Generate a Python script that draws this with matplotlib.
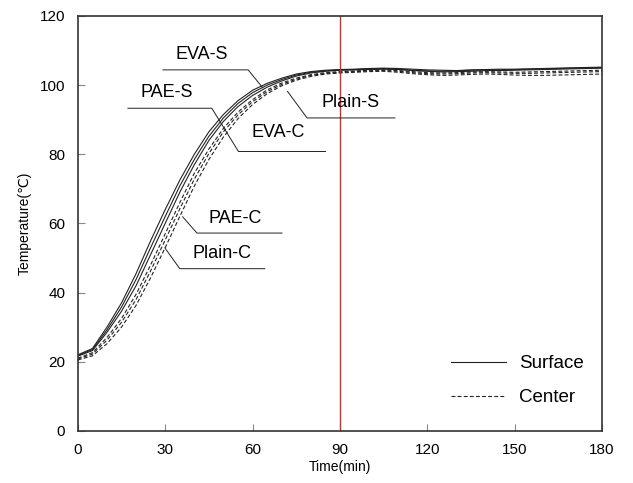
import matplotlib
matplotlib.use("Agg")
import matplotlib.pyplot as plt

plt.rcParams['font.family'] = ['Liberation Sans', 'DejaVu Sans']

# time (min)
t = [0, 5, 10, 15, 20, 25, 30, 35, 40, 45, 50, 55, 60, 65, 70, 75, 80, 85, 90,
     95, 100, 105, 110, 115, 120, 125, 130, 135, 140, 145, 150, 155, 160, 165, 170, 175, 180]

# surface temperatures
eva_s = [22.0, 23.8, 30.0, 37.0, 45.5, 55.0, 64.0, 72.5, 80.0, 86.5, 91.5, 95.5, 98.5, 100.5, 102.0, 103.2, 103.9, 104.3, 104.5,
         104.6, 104.8, 104.9, 104.8, 104.6, 104.4, 104.3, 104.2, 104.4, 104.5, 104.6, 104.6, 104.7, 104.8, 104.9, 105.0, 105.1, 105.2]
pae_s = [21.8, 23.5, 29.2, 35.8, 43.8, 53.0, 62.0, 70.8, 78.5, 85.2, 90.5, 94.7, 97.8, 100.0, 101.6, 102.9, 103.7, 104.1, 104.4,
         104.5, 104.7, 104.8, 104.6, 104.3, 104.1, 104.0, 104.1, 104.3, 104.4, 104.4, 104.5, 104.6, 104.7, 104.8, 104.9, 105.0, 105.0]
plain_s = [21.6, 23.2, 28.5, 34.6, 42.0, 51.0, 60.0, 69.0, 77.0, 84.0, 89.5, 93.8, 97.0, 99.4, 101.2, 102.6, 103.5, 104.0, 104.3,
           104.4, 104.5, 104.6, 104.5, 104.2, 104.0, 103.8, 103.9, 104.0, 104.2, 104.2, 104.3, 104.4, 104.5, 104.6, 104.7, 104.8, 104.9]
# center temperatures
eva_c = [21.0, 22.6, 27.0, 32.5, 39.5, 48.0, 57.0, 66.0, 74.5, 81.5, 87.5, 92.2, 95.8, 98.6, 100.6, 102.0, 103.0, 103.6, 103.9,
         104.1, 104.3, 104.4, 104.2, 103.9, 103.6, 103.5, 103.6, 103.8, 103.9, 103.8, 103.7, 103.8, 103.9, 104.0, 104.1, 104.2, 104.3]
pae_c = [20.8, 22.2, 26.2, 31.4, 38.0, 46.3, 55.2, 64.2, 72.8, 80.2, 86.5, 91.4, 95.2, 98.1, 100.2, 101.7, 102.8, 103.4, 103.7,
         103.9, 104.1, 104.2, 104.0, 103.6, 103.3, 103.2, 103.3, 103.5, 103.6, 103.5, 103.4, 103.4, 103.5, 103.6, 103.7, 103.8, 103.9]
plain_c = [20.5, 21.7, 25.2, 30.0, 36.3, 44.3, 53.0, 62.0, 70.8, 78.5, 85.0, 90.3, 94.4, 97.5, 99.8, 101.4, 102.5, 103.2, 103.5,
           103.7, 103.9, 104.0, 103.7, 103.3, 103.0, 102.8, 102.9, 103.1, 103.2, 103.1, 102.9, 102.8, 102.8, 102.9, 103.0, 103.1, 103.2]

fig = plt.figure(figsize=(6.33, 4.83), dpi=100)
ax = fig.add_axes([0.123, 0.108, 0.828, 0.859])

lc = '#222222'
dash = (0, (3.5, 2))
for y in [eva_s, pae_s, plain_s]:
    ax.plot(t, y, color=lc, lw=0.8, ls='-')
for y in [eva_c, pae_c, plain_c]:
    ax.plot(t, y, color=lc, lw=0.8, ls=dash)

ax.axvline(90, color='#b83a3a', lw=1.0)

# labels with leader lines (text, text pos, leader polyline)
labels = [
    ('EVA-S', (42.5, 108.8), [(29.2, 104.4), (58.5, 104.4), (63.5, 99.2)]),
    ('PAE-S', (30.5, 98.0), [(17.2, 93.3), (46.0, 93.3), (55.0, 81.0)]),
    ('EVA-C', (68.7, 86.2), [(55.0, 81.0), (84.9, 81.0)]),
    ('Plain-S', (93.5, 95.1), [(72.0, 98.2), (78.7, 90.5), (108.9, 90.5)]),
    ('PAE-C', (54.2, 61.5), [(36.0, 61.9), (40.9, 57.2), (70.1, 57.2)]),
    ('Plain-C', (49.5, 51.4), [(29.9, 52.9), (35.0, 46.9), (64.2, 46.9)]),
]
for txt, pos, pts in labels:
    ax.text(pos[0], pos[1], txt, fontsize=13, ha='center', va='center')
    ax.plot([p[0] for p in pts], [p[1] for p in pts], color=lc, lw=0.7)

ax.plot([], [], color=lc, lw=0.8, ls='-', label='Surface')
ax.plot([], [], color=lc, lw=0.8, ls=dash, label='Center')
ax.legend(loc='lower right', frameon=False, fontsize=13.5, handlelength=2.9,
          handletextpad=0.7, labelspacing=0.92, bbox_to_anchor=(0.997, 0.018))

ax.set_xlim(0, 180)
ax.set_ylim(0, 120)
ax.set_xticks([0, 30, 60, 90, 120, 150, 180])
ax.set_yticks([0, 20, 40, 60, 80, 100, 120])
ax.tick_params(direction='in', length=5, width=0.8, color='#888888', labelsize=11, pad=9)
for s in ax.spines.values():
    s.set_color('#333333')
    s.set_linewidth(1.2)

ax.set_xlabel('Time(min)', fontsize=10, labelpad=2)
ax.set_ylabel('Temperature(\u2103)', fontsize=10, labelpad=6)

fig.savefig('out.png', dpi=100)
